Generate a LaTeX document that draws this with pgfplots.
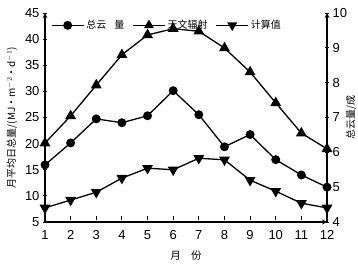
\documentclass[border=0pt]{standalone}
\usepackage{fontspec}
\setmainfont{Liberation Sans}
\newfontfamily\cjk{Noto Sans CJK SC}
\usepackage{pgfplots}
\pgfplotsset{compat=1.18}
\begin{document}
\begin{tikzpicture}
\pgfplotsset{
  common/.style={
    at={(0,0)}, anchor=south west, scale only axis,
    width=282pt, height=209pt, xmin=1, xmax=12, clip=false,
    axis line style={-, line width=1.2pt},
    tick align=outside, major tick length=4pt, minor tick length=2.5pt,
    tick style={line width=1pt, black},
    tick label style={font=\fontsize{13}{14}\selectfont},
    /pgf/number format/assume math mode=true,
    label style={font=\fontsize{10.5}{12}\selectfont},
  },
  ln/.style={black, line width=1.3pt},
}
\begin{axis}[common,
  ymin=5, ymax=45,
  axis x line=bottom, axis y line=left,
  xtick={1,...,12}, ytick={5,10,...,45}, minor y tick num=1,
  xtick style={yshift=4pt},
  xticklabel style={yshift=-3pt},
  ylabel={\cjk 月平均日总量/(MJ·m$^{-2}$·d$^{-1}$)},
  every axis y label/.style={at={(rel axis cs:0,0.5)}, xshift=-33pt, rotate=90, anchor=center},
  xlabel={\cjk 月\quad 份},
  xlabel style={yshift=-4pt},
]
\addplot[ln, mark=triangle*, mark size=5pt] coordinates {
(1,20.1)(2,25.3)(3,31.2)(4,37.0)(5,40.8)(6,42.0)(7,41.5)(8,38.3)(9,33.7)(10,27.8)(11,22.0)(12,19.0)};
\addplot[ln, mark=triangle*, mark size=5pt, every mark/.append style={rotate=180}] coordinates {
(1,7.7)(2,9.2)(3,10.7)(4,13.4)(5,15.3)(6,15.0)(7,17.2)(8,16.9)(9,13.0)(10,10.9)(11,8.6)(12,7.7)};
\end{axis}
\begin{axis}[common,
  ymin=4, ymax=10,
  axis x line=none, axis y line=right,
  ytick={4,...,10}, minor y tick num=1,
  ylabel={\cjk 总云量/成},
  every axis y label/.style={at={(rel axis cs:1,0.5)}, xshift=24pt, rotate=90, anchor=center},
  legend columns=3,
  legend style={at={(0.01,0.985)}, anchor=north west, draw=none, fill=none,
    font=\cjk\fontsize{10}{11}\selectfont,
    /tikz/every even column/.append style={column sep=6pt}},
  legend image code/.code={\draw[mark repeat=2,mark phase=2] plot coordinates {(0pt,0pt)(16pt,0pt)(32pt,0pt)};},
]
\addplot[ln, mark=*, mark size=3.8pt] coordinates {
(1,5.64)(2,6.27)(3,6.96)(4,6.85)(5,7.05)(6,7.77)(7,7.08)(8,6.16)(9,6.51)(10,5.79)(11,5.35)(12,5.0)};
\addlegendentry{总云\hspace{0.8em}量}
\addlegendimage{ln, mark=triangle*, mark size=4.5pt}
\addlegendentry{天文辐射}
\addlegendimage{ln, mark=triangle*, mark size=4.5pt, every mark/.append style={rotate=180}}
\addlegendentry{计算值}
\end{axis}
\pgfresetboundingbox
\path (-45pt,-43pt) rectangle (313pt,222pt);
\end{tikzpicture}
\end{document}
